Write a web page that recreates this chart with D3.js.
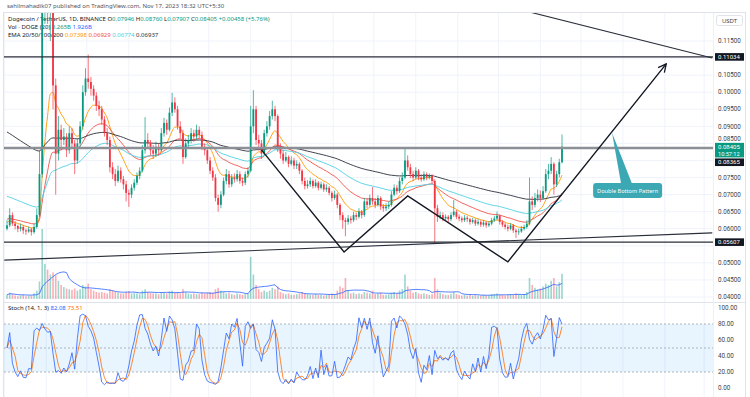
<!DOCTYPE html>
<html>
<head>
<meta charset="utf-8">
<script src="https://cdn.jsdelivr.net/npm/d3@7"></script>
<style>
body { margin: 0; background: #fff; }
svg { display: block; font-family: "Noto Sans", Lato, sans-serif; }
</style>
</head>
<body>
<script>
// DOGE/USDT, one bar per 2 days, prices in units of 0.0001
var startDate = new Date(2022, 9, 3);
var firstOpen = 600;
var close = [
  610,640,615,608,600,605,595,592,598,590,
  605,640,760,1290,1310,1270,1280,1020,820,890,
  860,870,830,880,850,800,850,900,1000,1040,
  1030,1010,990,960,950,920,880,860,780,760,
  740,770,745,730,705,700,720,735,755,770,
  830,860,850,830,820,840,830,880,910,890,
  940,970,950,900,880,810,850,860,880,870,
  890,875,840,830,800,770,750,690,670,700,
  740,760,730,750,745,760,740,735,760,770,
  900,950,860,850,820,880,900,930,950,930,
  840,820,800,810,790,800,785,790,770,740,
  725,730,740,725,735,720,730,715,720,705,
  690,700,670,640,625,620,630,625,640,635,
  650,640,680,670,690,680,670,690,665,660,
  665,670,700,720,710,740,750,800,780,760,
  750,770,750,745,760,750,755,740,660,635,
  640,630,635,628,640,650,635,630,625,632,
  628,620,625,615,620,612,618,610,615,625,
  630,638,620,612,605,600,610,595,590,592,
  600,605,615,680,670,690,700,690,710,760,
  770,790,730,760,795,840.5
];
var high = [
  625,660,648,622,612,615,610,600,606,603,
  615,660,830,1460,1570,1380,1350,1300,1040,930,
  905,895,880,900,895,860,865,915,1020,1070,
  1110,1045,1020,1000,975,960,930,895,870,795,
  775,785,780,755,740,715,730,745,765,780,
  845,927,880,860,845,855,850,895,925,920,
  955,998,985,960,915,890,865,875,895,890,
  905,900,885,850,840,810,780,760,700,710,
  750,775,770,760,762,772,768,750,768,780,
  960,1006,960,875,860,890,915,945,975,960,
  935,850,830,825,815,812,808,800,795,775,
  750,742,750,745,745,740,738,735,730,725,
  710,712,705,675,648,632,640,638,650,648,
  660,655,690,690,700,722,690,698,695,672,
  675,680,710,730,728,750,765,836,815,790,
  770,780,775,760,768,765,762,760,745,670,
  650,648,642,640,648,684,655,642,636,640,
  638,632,632,630,628,625,625,622,622,632,
  638,650,642,625,618,612,616,614,600,600,
  608,612,625,750,695,705,715,712,725,775,
  790,810,795,770,805,876
];
var low = [
  595,605,608,598,590,592,585,582,588,580,
  585,600,635,750,1200,1200,1150,950,700,800,
  830,845,810,820,835,760,790,840,890,990,
  1010,990,975,945,930,905,870,845,765,745,
  725,735,735,715,680,664,690,712,728,745,
  765,820,835,815,805,810,815,825,870,875,
  885,930,940,890,865,790,805,840,850,855,
  860,865,830,815,790,760,740,680,650,660,
  695,730,720,722,735,738,732,725,728,750,
  765,880,845,830,805,815,870,890,920,915,
  825,805,790,795,780,785,775,775,760,730,
  715,718,722,718,720,712,715,708,708,698,
  680,685,660,625,600,578,612,615,620,625,
  630,630,635,660,665,670,660,665,655,650,
  652,658,665,695,700,705,730,745,770,748,
  740,745,742,738,740,742,745,732,558,620,
  628,622,625,620,622,635,628,622,618,620,
  620,612,615,608,610,605,606,603,605,610,
  620,625,612,605,598,592,595,588,573,582,
  588,595,600,610,655,662,680,678,685,705,
  745,760,700,722,750,791
];
var volume = [
  6,9,7,5,4,5,6,4,5,5,
  8,12,25,100,50,42,35,38,34,26,
  20,17,15,14,13,15,12,14,20,18,
  22,14,12,10,9,10,9,8,14,12,
  10,9,8,8,10,11,8,9,8,7,
  12,14,10,9,8,8,7,10,9,8,
  11,12,9,10,8,14,10,8,7,8,
  7,7,9,8,9,10,9,14,16,12,
  10,8,9,7,6,8,7,6,7,8,
  60,35,20,14,10,12,10,12,16,14,
  18,10,8,7,8,6,6,7,8,10,
  8,7,6,6,7,6,6,5,6,7,
  8,7,12,18,16,30,12,8,9,7,
  8,7,10,9,8,12,7,8,9,6,
  6,7,9,10,8,12,14,35,18,12,
  9,10,8,7,8,7,6,7,30,14,
  9,7,6,6,7,10,7,6,5,6,
  5,6,5,6,5,5,6,5,5,7,
  7,8,6,6,5,6,7,6,8,7,
  6,7,10,30,20,16,14,15,18,22,
  20,26,30,18,24,36
];
var emaPeriods = [20, 50, 100, 200];
var emaSeeds = [620, 630, 698, 889];
var emaColors = ["#ff9800", "#f0514a", "#4dd0e1", "#2a2e39"];
var priceTicks = [0.04,0.045,0.05,0.055,0.06,0.065,0.07,0.075,0.08,0.085,0.09,0.095,0.1,0.105,0.11,0.115];
var stochTicks = [0, 20, 40, 60, 80, 100];
var levels = [0.11034, 0.08365, 0.05607];
var lastPrice = 0.08405;
var patternDates = ["2023-04-09", "2023-06-09", "2023-07-26", "2023-10-08", "2024-02-02"];
var patternPrices = [0.0831, 0.0532, 0.0696, 0.0503, 0.1083];
var supportDates = ["2022-10-01", "2024-03-07"];
var supportPrices = [0.0508, 0.0588];
var topDates = ["2023-10-24", "2024-03-07"];
var topPrices = [0.1235, 0.1100];

var width = 750, height = 397;
var left = 4, right = 713, mainTop = 13, mainBottom = 302, stochTop = 303;
var up = "#089981", down = "#f23645";
var parse = d3.timeParse("%Y-%m-%d");

var svg = d3.select("body").append("svg").attr("width", width).attr("height", height);
var defs = svg.append("defs");
defs.append("clipPath").attr("id", "mainClip").append("rect")
  .attr("x", left).attr("y", mainTop).attr("width", right - left).attr("height", mainBottom - mainTop);
defs.append("clipPath").attr("id", "stochClip").append("rect")
  .attr("x", left).attr("y", stochTop).attr("width", right - left).attr("height", height - stochTop);
defs.append("marker").attr("id", "arrow").attr("viewBox", "0 0 10 10")
  .attr("refX", 9).attr("refY", 5).attr("markerWidth", 10).attr("markerHeight", 10)
  .attr("markerUnits", "userSpaceOnUse").attr("orient", "auto")
  .append("path").attr("d", "M1,1 L9,5 L1,9").attr("fill", "none")
  .attr("stroke", "#131722").attr("stroke-width", 1.3);

var dates = close.map(function(d, i) { return d3.timeDay.offset(startDate, 2 * i); });
var opens = close.map(function(d, i) { return i ? close[i - 1] : firstOpen; });

var x = d3.scaleTime().domain([dates[0], dates[dates.length - 1]]).range([7, 562]);
var y = d3.scaleLinear().domain([0.04, 0.115]).range([297, 41]);
var yv = d3.scaleLinear().domain([0, 100]).range([299, 229]);
var ys = d3.scaleLinear().domain([0, 100]).range([388, 308]);
var yp = function(v) { return y(v / 10000); };

// grid
var grid = svg.append("g").attr("stroke", "#f0f3fa").attr("stroke-width", 1);
d3.timeMonth.range(new Date(2022, 9, 1), new Date(2024, 2, 2)).forEach(function(m) {
  grid.append("line").attr("x1", x(m)).attr("x2", x(m)).attr("y1", mainTop).attr("y2", height);
});
priceTicks.forEach(function(t) {
  grid.append("line").attr("x1", left).attr("x2", right).attr("y1", y(t)).attr("y2", y(t));
});

// stoch band
svg.append("rect").attr("x", left).attr("width", right - left)
  .attr("y", ys(80)).attr("height", ys(20) - ys(80)).attr("fill", "#2196f3").attr("opacity", 0.1);
[80, 50, 20].forEach(function(t) {
  svg.append("line").attr("x1", left).attr("x2", right).attr("y1", ys(t)).attr("y2", ys(t))
    .attr("stroke", "#9598a1").attr("stroke-width", 0.7).attr("stroke-dasharray", "2,2");
});
svg.append("line").attr("x1", left).attr("x2", 746).attr("y1", mainBottom + 0.5).attr("y2", mainBottom + 0.5)
  .attr("stroke", "#e0e3eb");

// legend
var legend = svg.append("g").attr("font-size", 6).attr("fill", "#131722");
var l1 = legend.append("text").attr("x", 8).attr("y", 21);
l1.append("tspan").text("Dogecoin / TetherUS, 1D, BINANCE  O");
l1.append("tspan").attr("fill", up).text("0.07946");
l1.append("tspan").text("  H");
l1.append("tspan").attr("fill", up).text("0.08760");
l1.append("tspan").text("  L");
l1.append("tspan").attr("fill", up).text("0.07907");
l1.append("tspan").text("  C");
l1.append("tspan").attr("fill", up).text("0.08405  +0.00458 (+5.76%)");
var l2 = legend.append("text").attr("x", 8).attr("y", 29);
l2.append("tspan").text("Vol · DOGE (20)  ");
l2.append("tspan").attr("fill", up).text("3.265B");
l2.append("tspan").attr("fill", "#2962ff").text("  1.926B");
var l3 = legend.append("text").attr("x", 8).attr("y", 37);
l3.append("tspan").text("EMA 20/50/100/200  ");
["0.07398", "0.06929", "0.06774", "0.06937"].forEach(function(v, i) {
  l3.append("tspan").attr("fill", emaColors[i]).text(v + "  ");
});
var l4 = legend.append("text").attr("x", 8).attr("y", 310);
l4.append("tspan").text("Stoch (14, 1, 3)  ");
l4.append("tspan").attr("fill", "#2962ff").text("82.08  ");
l4.append("tspan").attr("fill", "#ff6d00").text("73.51");

// volume
var main = svg.append("g").attr("clip-path", "url(#mainClip)");
main.append("g").selectAll("rect").data(volume).enter().append("rect")
  .attr("x", function(d, i) { return x(dates[i]) - 0.8; })
  .attr("width", 1.6)
  .attr("y", function(d) { return yv(d); })
  .attr("height", function(d) { return yv(0) - yv(d); })
  .attr("fill", function(d, i) { return close[i] >= opens[i] ? up : down; })
  .attr("opacity", 0.4);
var volMa = volume.map(function(d, i) {
  return d3.mean(volume.slice(Math.max(0, i - 9), i + 1));
});
main.append("path").datum(volMa)
  .attr("d", d3.line().x(function(d, i) { return x(dates[i]); }).y(function(d) { return yv(d); }))
  .attr("fill", "none").attr("stroke", "#2962ff").attr("stroke-width", 0.8);

// EMAs (2-day bars, so half the period)
emaPeriods.forEach(function(p, k) {
  var a = 2 / (p / 2 + 1), prev = emaSeeds[k];
  var ema = close.map(function(c) { prev = prev + a * (c - prev); return prev; });
  main.append("path").datum(ema)
    .attr("d", d3.line().curve(d3.curveMonotoneX)
      .x(function(d, i) { return x(dates[i]); }).y(function(d) { return yp(d); }))
    .attr("fill", "none").attr("stroke", emaColors[k]).attr("stroke-width", 0.9);
});

// candles
var candle = main.append("g").selectAll("g").data(close).enter().append("g")
  .attr("stroke", function(d, i) { return d >= opens[i] ? up : down; })
  .attr("fill", function(d, i) { return d >= opens[i] ? up : down; });
candle.append("line")
  .attr("x1", function(d, i) { return x(dates[i]); })
  .attr("x2", function(d, i) { return x(dates[i]); })
  .attr("y1", function(d, i) { return yp(high[i]); })
  .attr("y2", function(d, i) { return yp(low[i]); })
  .attr("stroke-width", 0.7);
candle.append("rect")
  .attr("stroke", "none")
  .attr("x", function(d, i) { return x(dates[i]) - 0.9; })
  .attr("width", 1.8)
  .attr("y", function(d, i) { return yp(Math.max(d, opens[i])); })
  .attr("height", function(d, i) { return Math.max(0.8, Math.abs(yp(d) - yp(opens[i]))); });

// drawings
levels.forEach(function(v, i) {
  main.append("line").attr("x1", left).attr("x2", right).attr("y1", y(v)).attr("y2", y(v))
    .attr("stroke", i === 1 ? "#8d8f96" : "#2a2e39").attr("stroke-width", i === 1 ? 2.6 : 1.2);
});
var dline = d3.line().x(function(d) { return x(parse(d[0])); }).y(function(d) { return y(d[1]); });
main.append("path").datum(d3.zip(supportDates, supportPrices)).attr("d", dline)
  .attr("stroke", "#2a2e39").attr("stroke-width", 1.1).attr("fill", "none");
main.append("path").datum(d3.zip(topDates, topPrices)).attr("d", dline)
  .attr("stroke", "#2a2e39").attr("stroke-width", 1.1).attr("fill", "none");
main.append("path").datum(d3.zip(patternDates, patternPrices)).attr("d", dline)
  .attr("stroke", "#131722").attr("stroke-width", 1.4).attr("fill", "none")
  .attr("marker-end", "url(#arrow)");

// callout
var bx = x(parse("2023-12-10")), by = y(0.0734);
var tipX = x(parse("2023-12-24")), tipY = y(0.08805);
var callout = svg.append("g");
callout.append("path")
  .attr("d", "M" + (bx + 28) + "," + (by + 1) + "L" + tipX + "," + tipY + "L" + (bx + 39) + "," + (by + 1) + "Z")
  .attr("fill", "#3ba8b4");
callout.append("rect").attr("x", bx).attr("y", by).attr("width", 69).attr("height", 15).attr("rx", 3)
  .attr("fill", "#3ba8b4");
callout.append("text").attr("x", bx + 34.5).attr("y", by + 9.8).attr("text-anchor", "middle")
  .attr("font-size", 5.6).attr("fill", "#fff").text("Double Bottom Pattern");

// stochastic (14 days = 7 two-day bars, smoothing 1, signal 3)
var stochK = close.map(function(c, i) {
  var from = Math.max(0, i - 6);
  var hh = d3.max(high.slice(from, i + 1)), ll = d3.min(low.slice(from, i + 1));
  return hh === ll ? 50 : 100 * (c - ll) / (hh - ll);
});
var stochD = stochK.map(function(d, i) { return d3.mean(stochK.slice(Math.max(0, i - 2), i + 1)); });
var sline = d3.line().x(function(d, i) { return x(dates[i]); }).y(function(d) { return ys(d); });
var stochG = svg.append("g").attr("clip-path", "url(#stochClip)");
stochG.append("path").datum(stochD).attr("d", sline).attr("fill", "none")
  .attr("stroke", "#ff6d00").attr("stroke-width", 0.8);
stochG.append("path").datum(stochK).attr("d", sline).attr("fill", "none")
  .attr("stroke", "#2962ff").attr("stroke-width", 0.8);

// price scale
svg.append("line").attr("x1", right + 0.5).attr("x2", right + 0.5).attr("y1", mainTop).attr("y2", height)
  .attr("stroke", "#eef0f3");
var tagY = [y(levels[0]), y(lastPrice) + 15.6, y(levels[2])];
var axisG = svg.append("g").attr("font-size", 6.3).attr("fill", "#3b3f4a").attr("font-family", "Roboto, sans-serif");
priceTicks.forEach(function(t) {
  var ty = y(t);
  // ticks covered by a level tag are not shown; the one under the last-price tag is nudged up
  if (tagY.some(function(g) { return Math.abs(g - ty) < 7.5; })) return;
  if (Math.abs(ty - y(lastPrice)) < 8) ty = y(lastPrice) - 7.8;
  axisG.append("text").attr("x", 718).attr("y", ty).attr("dy", "0.35em").text(d3.format(".5f")(t));
});
stochTicks.forEach(function(t) {
  axisG.append("text").attr("x", 718).attr("y", ys(t)).attr("dy", "0.35em").text(d3.format(".2f")(t));
});
function tag(yc, fill, lines) {
  var h = lines.length > 1 ? 14.6 : 7.6;
  svg.append("rect").attr("x", 715).attr("y", yc - 3.8).attr("width", 29).attr("height", h).attr("fill", fill);
  lines.forEach(function(s, i) {
    svg.append("text").attr("x", 718).attr("y", yc + i * 7.2).attr("dy", "0.35em")
      .attr("font-family", "Roboto, sans-serif")
      .attr("font-size", i ? 5.6 : 6).attr("fill", "#fff").text(s);
  });
}
tag(tagY[0], "#131722", [d3.format(".5f")(levels[0])]);
tag(y(lastPrice), up, [d3.format(".5f")(lastPrice), "10:57:12"]);
tag(tagY[1], "#131722", [d3.format(".5f")(levels[1])]);
tag(tagY[2], "#131722", [d3.format(".5f")(levels[2])]);
svg.append("rect").attr("x", 716.5).attr("y", 15.5).attr("width", 26).attr("height", 10).attr("rx", 2)
  .attr("fill", "#fff").attr("stroke", "#e0e3eb");
svg.append("text").attr("x", 729.5).attr("y", 22.5).attr("text-anchor", "middle")
  .attr("font-size", 6).attr("fill", "#3b3f4a").text("USDT");

// frame and header
svg.append("rect").attr("x", left - 0.5).attr("y", mainTop - 0.5).attr("width", 746 - left).attr("height", height - mainTop + 2)
  .attr("fill", "none").attr("stroke", "#e0e3eb");
svg.append("text").attr("x", 7).attr("y", 8).attr("font-size", 6).attr("fill", "#50535e")
  .text("sahilmahadik07 published on TradingView.com, Nov 17, 2023 18:32 UTC+5:30");
</script>
</body>
</html>
